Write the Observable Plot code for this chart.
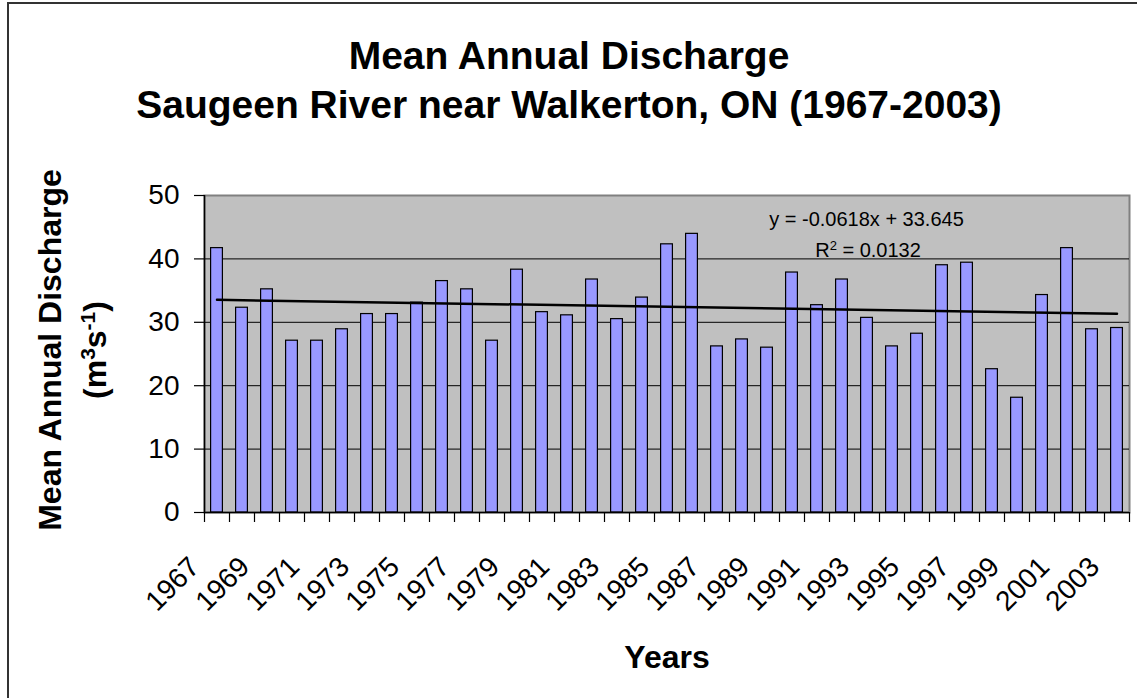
<!DOCTYPE html>
<html>
<head>
<meta charset="utf-8">
<script src="https://cdn.jsdelivr.net/npm/d3@7"></script>
<script src="https://cdn.jsdelivr.net/npm/@observablehq/plot@0.6"></script>
<style>
  html, body { margin: 0; padding: 0; background: #fff; }
  #chart { width: 1137px; height: 698px; position: relative; }
</style>
</head>
<body>
<div id="chart"></div>
<script>
const years = [1967,1968,1969,1970,1971,1972,1973,1974,1975,1976,1977,1978,1979,1980,1981,1982,1983,1984,1985,1986,1987,1988,1989,1990,1991,1992,1993,1994,1995,1996,1997,1998,1999,2000,2001,2002,2003];
const discharge = [41.7,32.3,35.2,27.1,27.1,28.9,31.3,31.3,33.1,36.5,35.2,27.1,38.3,31.6,31.1,36.75,30.5,33.9,42.3,43.95,26.2,27.3,26.0,37.85,32.7,36.75,30.7,26.2,28.2,39.0,39.4,22.6,18.1,34.3,41.7,28.9,29.1];
const labelYears = [1967,1969,1971,1973,1975,1977,1979,1981,1983,1985,1987,1989,1991,1993,1995,1997,1999,2001,2003];
const yTicks = [0,10,20,30,40,50];
const gridValues = [10,20,30,40];
const titleLines = ["Mean Annual Discharge", "Saugeen River near Walkerton, ON (1967-2003)"];
const equationText = "y = -0.0618x + 33.645";
const r2Text = "0.0132";

const data = years.map((year, i) => ({year, value: discharge[i]}));
const boundaries = years.map(y => y - 0.5).concat([years[years.length - 1] + 0.5]);

const font = "'Liberation Sans', Arial, Helvetica, sans-serif";

const plot = Plot.plot({
  width: 1137,
  height: 698,
  marginLeft: 204,
  marginRight: 8,
  marginTop: 195,
  marginBottom: 186,
  style: {fontFamily: font, background: "white", color: "black", overflow: "visible"},
  x: {domain: [boundaries[0], boundaries[boundaries.length - 1]], axis: null},
  y: {domain: [0, 50], axis: null},
  marks: [
    Plot.frame({fill: "#C0C0C0", stroke: "#808080", strokeWidth: 2}),
    Plot.ruleY(gridValues, {stroke: "black", strokeWidth: 1}),
    Plot.rectY(data, {x1: d => d.year - 0.5, x2: d => d.year + 0.5, y: "value", insetLeft: 6.6, insetRight: 6.6, fill: "#9999FF", stroke: "black", strokeWidth: 1.2}),
    Plot.linearRegressionY(data, {x: "year", y: "value", ci: 0, stroke: "black", strokeWidth: 2.5}),
    Plot.ruleX([boundaries[0]], {stroke: "black", strokeWidth: 1.5}),
    Plot.ruleY([0], {stroke: "black", strokeWidth: 1.5}),
    Plot.axisX({ticks: boundaries, tickSize: 10, tickFormat: () => "", label: null, stroke: "black", strokeWidth: 1.2}),
    Plot.axisY({ticks: yTicks, tickSize: 10, tickPadding: 15, fontSize: 28, label: null, tickFormat: d => String(d), stroke: "black", strokeWidth: 1.2}),
    Plot.text(labelYears, {x: d => d, frameAnchor: "bottom", text: d => String(d), rotate: -45, textAnchor: "end", lineAnchor: "bottom", dx: -16, dy: 56, fontSize: 28, fill: "black"}),
    Plot.text([titleLines[0]], {frameAnchor: "top", text: d => d, dx: -98, dy: -127, lineAnchor: "bottom", fontSize: 39, fontWeight: "bold", fill: "black"}),
    Plot.text([titleLines[1]], {frameAnchor: "top", text: d => d, dx: -98, dy: -78, lineAnchor: "bottom", fontSize: 39, fontWeight: "bold", fill: "black"}),
    Plot.text(["Years"], {frameAnchor: "bottom", text: d => d, dy: 155, lineAnchor: "bottom", fontSize: 32, fontWeight: "bold", fill: "black"}),
    Plot.text(["Mean Annual Discharge"], {frameAnchor: "left", text: d => d, rotate: -90, dx: -144, dy: -4, lineAnchor: "bottom", textAnchor: "middle", fontSize: 32, fontWeight: "bold", fill: "black"}),
    Plot.text([equationText], {frameAnchor: "top-left", text: d => d, dx: 662, dy: 30, lineAnchor: "bottom", textAnchor: "middle", fontSize: 20, fill: "black"})
  ]
});

document.getElementById("chart").appendChild(plot);

const svg = d3.select(plot);
// outer chart border
svg.append("path").attr("d", "M8,698 L8,3 L1137,3").attr("fill", "none").attr("stroke", "#333").attr("stroke-width", 2);

// y title second line with superscripts
const yt = svg.append("text")
  .attr("transform", "translate(106,350) rotate(-90)")
  .attr("text-anchor", "middle")
  .attr("font-family", font).attr("font-size", 32).attr("font-weight", "bold").attr("fill", "black");
yt.append("tspan").text("(m");
yt.append("tspan").attr("baseline-shift", "super").attr("font-size", 21).text("3");
yt.append("tspan").text("s");
yt.append("tspan").attr("baseline-shift", "super").attr("font-size", 21).text("-1");
yt.append("tspan").text(")");

// R squared line
const rt = svg.append("text")
  .attr("x", 868).attr("y", 257)
  .attr("text-anchor", "middle")
  .attr("font-family", font).attr("font-size", 20).attr("fill", "black");
rt.append("tspan").text("R");
rt.append("tspan").attr("baseline-shift", "super").attr("font-size", 13).text("2");
rt.append("tspan").text(" = " + r2Text);
</script>
</body>
</html>
